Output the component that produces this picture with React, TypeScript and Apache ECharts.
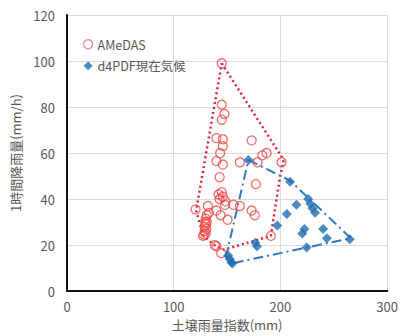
import React, { useEffect, useRef } from "react";
import * as echarts from "echarts";

const xTicks = [0, 100, 200, 300];
const yTicks = [0, 20, 40, 60, 80, 100, 120];

const amedas: number[][] = [
  [145, 99], [145, 81], [147.5, 77], [145, 74.5], [140, 66.5], [146, 66], [146, 63],
  [143.5, 60], [140, 56.5], [146, 55], [143, 49.5], [173, 65.5], [162, 56], [178.5, 56],
  [183, 59], [187, 60], [201, 56], [177, 46.5], [145, 43], [146, 41], [143, 40],
  [148.5, 39], [148, 37.5], [156, 37.5], [162, 37], [120.5, 35.5], [132, 37], [140, 35],
  [144, 33], [150.5, 31], [173, 35], [176, 33], [131, 33], [130, 31.5], [129.5, 30],
  [130, 29], [129, 28], [130.5, 27], [129, 26], [130, 25], [128.5, 24.5], [131, 30],
  [127.5, 24], [138.5, 20], [140, 19.5], [144.5, 16.5], [191, 24], [133, 34], [142, 42]
];

const d4pdf: number[][] = [
  [170, 57], [209, 47.5], [215, 37.5], [206, 33.5], [226, 40], [228, 38], [230, 36],
  [232.5, 34], [197, 28.5], [222.5, 27], [220.5, 25], [240, 27], [243.5, 23], [265, 22.5],
  [224.5, 19], [176.5, 21], [178, 19.5], [151, 15.5], [152.5, 14], [154, 12.5], [155, 12]
];

const amedasHull: number[][] = [
  [145, 99], [203, 57], [199, 48], [191, 24], [147, 18], [138, 20], [128, 24], [121, 35], [145, 99]
];

const d4pdfHull: number[][] = [
  [170, 57], [209, 48], [266, 23], [154, 12], [149, 15], [170, 57]
];

const FONT = "'Noto Sans CJK JP', 'Noto Sans', sans-serif";
const TXT = "#595959";

export default function App() {
  const ref = useRef<HTMLDivElement>(null);
  useEffect(() => {
    if (!ref.current) return;
    const chart = echarts.init(ref.current, undefined, { renderer: "svg" });
    chart.setOption({
      animation: false,
      textStyle: { fontFamily: FONT },
      grid: { left: 67, right: 12, top: 15, bottom: 41, containLabel: false },
      legend: {
        left: 78,
        top: 33,
        orient: "vertical",
        itemGap: 9,
        itemWidth: 9,
        itemHeight: 9,
        textStyle: { color: TXT, fontSize: 12.5, fontFamily: FONT },
        data: [
          { name: "AMeDAS", icon: "circle", itemStyle: { color: "#fff", borderColor: "#f06060", borderWidth: 1.2 } },
          { name: "d4PDF現在気候", icon: "diamond" }
        ]
      },
      xAxis: [
        {
          type: "value",
          min: xTicks[0],
          max: xTicks[xTicks.length - 1],
          interval: 100,
          name: "土壌雨量指数(mm)",
          nameLocation: "middle",
          nameGap: 25,
          nameTextStyle: { color: TXT, fontSize: 13, fontFamily: FONT },
          axisLine: { show: true, lineStyle: { color: "#888", width: 1.5 } },
          axisTick: { show: false },
          axisLabel: { color: TXT, fontSize: 13, margin: 9 },
          splitLine: { show: true, lineStyle: { color: "#dcdcdc" } }
        },
        {
          type: "value",
          position: "top",
          min: 0,
          max: 300,
          axisLine: { show: true, lineStyle: { color: "#111", width: 2 } },
          axisTick: { show: false },
          axisLabel: { show: false },
          splitLine: { show: false }
        }
      ],
      yAxis: [
        {
          type: "value",
          min: yTicks[0],
          max: yTicks[yTicks.length - 1],
          interval: 20,
          name: "1時間降雨量(mm/h)",
          nameLocation: "middle",
          nameGap: 44,
          nameTextStyle: { color: TXT, fontSize: 13, fontFamily: FONT },
          axisLine: { show: true, lineStyle: { color: "#888", width: 1.5 } },
          axisTick: { show: false },
          axisLabel: { color: TXT, fontSize: 13, margin: 12 },
          splitLine: { show: true, lineStyle: { color: "#dcdcdc" } }
        },
        {
          type: "value",
          position: "right",
          min: 0,
          max: 120,
          axisLine: { show: true, lineStyle: { color: "#111", width: 2 } },
          axisTick: { show: false },
          axisLabel: { show: false },
          splitLine: { show: false }
        }
      ],
      series: [
        {
          name: "AMeDAS",
          type: "scatter",
          symbol: "circle",
          symbolSize: 9,
          itemStyle: { color: "rgba(255,255,255,0)", borderColor: "#f04848", borderWidth: 1.3 },
          data: amedas,
          z: 3
        },
        {
          name: "d4PDF現在気候",
          type: "scatter",
          symbol: "diamond",
          symbolSize: 10,
          itemStyle: { color: "#1f6db3" },
          data: d4pdf,
          z: 4
        },
        {
          name: "amedasHull",
          type: "line",
          data: amedasHull,
          symbol: "none",
          lineStyle: { color: "#d9263a", width: 2.5, type: [2, 3] },
          z: 2,
          silent: true
        },
        {
          name: "d4pdfHull",
          type: "line",
          data: d4pdfHull,
          symbol: "none",
          lineStyle: { color: "#2e7bc0", width: 2, type: [10, 4, 2, 4] },
          z: 2,
          silent: true
        }
      ]
    });
    return () => chart.dispose();
  }, []);
  return <div ref={ref} style={{ position: "absolute", left: 0, top: 0, width: 401, height: 336 }} />;
}
